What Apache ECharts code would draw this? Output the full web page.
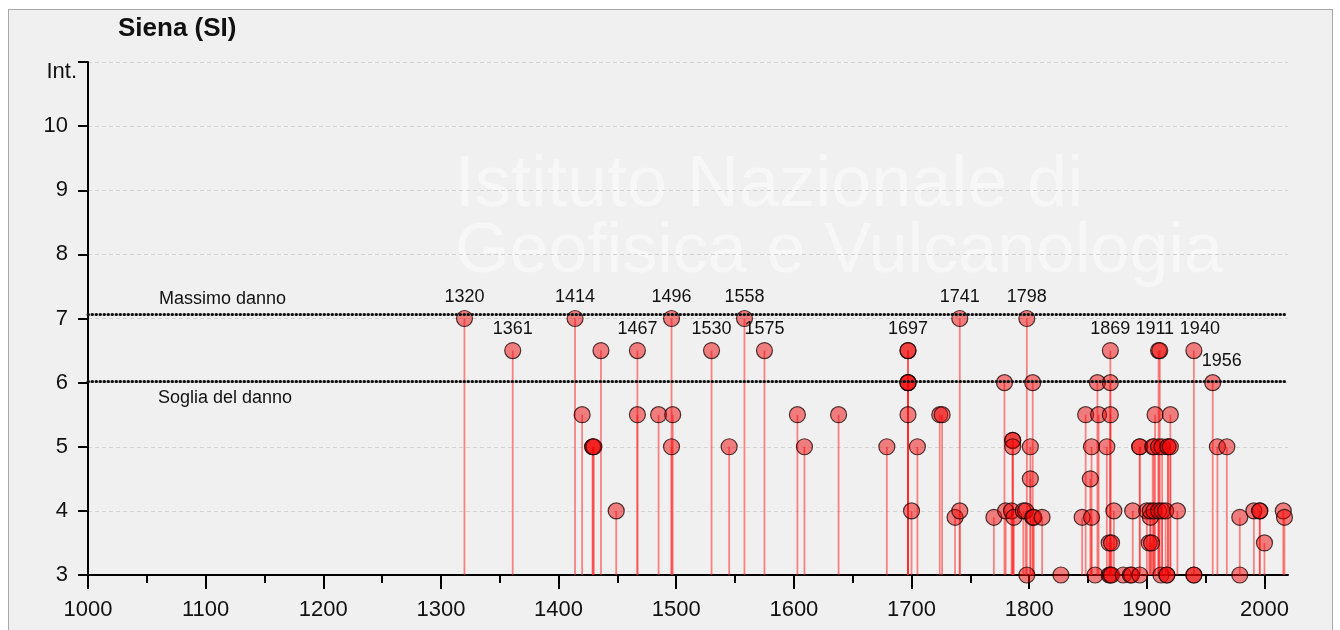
<!DOCTYPE html>
<html>
<head>
<meta charset="utf-8">
<script src="https://cdn.jsdelivr.net/npm/echarts@6/dist/echarts.min.js"></script>
<style>
  html, body { margin: 0; padding: 0; background: #fff; }
  #frame { position: absolute; left: 8px; top: 9px; width: 1323px; height: 640px; border: 1px solid #a8a8a8; background: #f0f0f0; }
  #chart { position: absolute; left: 0; top: 0; width: 1340px; height: 630px; }
</style>
</head>
<body>
<div id="frame"></div>
<div id="chart"></div>
<script>
const FONT = "'Liberation Sans', Arial, sans-serif";
const INK = "#111";

// anni e intensità delle osservazioni macrosismiche
const years = [
  1320, 1361, 1414, 1420, 1429, 1429, 1430, 1436, 1449, 1467, 1467, 1485, 1496, 1497, 1496, 1530, 1545, 1558, 1575,
  1603, 1609, 1638, 1679, 1697, 1697, 1697, 1697, 1697, 1697, 1700, 1705, 1724, 1726, 1737, 1741, 1741,
  1770, 1779, 1780, 1785, 1786, 1786, 1786, 1787, 1795, 1797, 1798, 1798, 1801, 1801, 1803, 1803, 1804, 1811, 1827,
  1845, 1848, 1852, 1853, 1853, 1856, 1858, 1859, 1866, 1869, 1869, 1869, 1868, 1870, 1868, 1869, 1870, 1872,
  1880, 1886, 1888, 1887, 1894, 1894, 1894, 1900, 1902, 1904, 1903, 1903, 1905, 1906, 1906, 1907, 1910, 1911,
  1910, 1910, 1913, 1913, 1912, 1916, 1917, 1917, 1918, 1918, 1920, 1920, 1926, 1940, 1940, 1940, 1956, 1960,
  1968, 1979, 1979, 1991, 1996, 1996, 2000, 2016, 2017,
];
const intensities = [
  7, 6.5, 7, 5.5, 5, 5, 5, 6.5, 4, 6.5, 5.5, 5.5, 7, 5.5, 5, 6.5, 5, 7, 6.5,
  5.5, 5, 5.5, 5, 6.5, 6.5, 6, 6, 6, 5.5, 4, 5, 5.5, 5.5, 3.9, 7, 4,
  3.9, 6, 4, 4, 5.1, 5.1, 5, 3.9, 4, 4, 7, 3, 5, 4.5, 6, 3.9, 3.9, 3.9, 3,
  3.9, 5.5, 4.5, 5, 3.9, 3, 6, 5.5, 5, 6.5, 6, 5.5, 3.5, 3.5, 3, 3, 3, 4,
  3, 3, 4, 3, 5, 5, 3, 4, 3.5, 3.5, 3.9, 4, 5, 5, 4, 5.5, 6.5, 6.5,
  5, 4, 5, 4, 3, 4, 3, 3, 5, 5, 5, 5.5, 4, 6.5, 3, 3, 6, 5,
  5, 3.9, 3, 4, 4, 4, 3.5, 4, 3.9,
];
const labelYears = [1320, 1361, 1414, 1467, 1496, 1530, 1558, 1575, 1697, 1741, 1798, 1869, 1911, 1940, 1956];
const xTicks = [1000, 1100, 1200, 1300, 1400, 1500, 1600, 1700, 1800, 1900, 2000];
const xMinorTicks = [1050, 1150, 1250, 1350, 1450, 1550, 1650, 1750, 1850, 1950];
const yTicks = [3, 4, 5, 6, 7, 8, 9, 10];
const refValues = [7.07, 6.02];
const refNames = ["Massimo danno", "Soglia del danno"];
const X_MIN = 1000, X_MAX = 2020, Y_MIN = 3, Y_MAX = 11;

// piccoli spostamenti delle etichette affollate (px)
const labelNudge = { 1911: -5, 1940: 6, 1956: 9 };

// etichetta sull'evento più forte di ciascun anno segnalato
const labelIndex = new Set(labelYears.map((year) => {
  let best = -1;
  years.forEach((y, i) => { if (y === year && (best < 0 || intensities[i] > intensities[best])) best = i; });
  return best;
}));

const points = years.map((year, i) => ({
  value: [year, intensities[i]],
  label: { show: labelIndex.has(i), formatter: String(year), offset: [labelNudge[year] || 0, 0] },
}));

const axisLine = { show: true, onZero: false, lineStyle: { color: "#000", width: 2 } };
const plain = (value) => String(value);

const chart = echarts.init(document.getElementById("chart"), null, { renderer: "canvas" });
chart.setOption({
  animation: false,
  backgroundColor: "transparent",
  textStyle: { fontFamily: FONT },
  title: { text: "Siena (SI)", left: 118, top: 16, padding: 0, textStyle: { fontSize: 26, fontWeight: "bold", color: INK, fontFamily: FONT } },
  graphic: [
    { type: "text", left: 455, top: 150, z: -10, silent: true, style: { text: "Istituto Nazionale di", fontSize: 72, fontFamily: FONT, fill: "rgba(255,255,255,0.45)" } },
    { type: "text", left: 455, top: 218, z: -10, silent: true, style: { text: "Geofisica e Vulcanologia", fontSize: 70, fontFamily: FONT, fill: "rgba(255,255,255,0.45)" } },
  ],
  grid: { left: 88, right: 52, top: 62, bottom: 55 },
  xAxis: [
    {
      type: "value", min: X_MIN, max: X_MAX, interval: 100,
      axisLine,
      axisTick: { show: true, length: 14, customValues: xTicks, lineStyle: { color: "#000", width: 2 } },
      axisLabel: { customValues: xTicks, formatter: plain, margin: 24, fontSize: 22, color: INK, fontFamily: FONT },
      splitLine: { show: false },
    },
    {
      type: "value", min: X_MIN, max: X_MAX, position: "bottom",
      axisLine: { show: false },
      axisTick: { show: true, length: 8, customValues: xMinorTicks, lineStyle: { color: "#000", width: 2 } },
      axisLabel: { show: false },
      splitLine: { show: false },
    },
  ],
  yAxis: {
    type: "value", min: Y_MIN, max: Y_MAX, interval: 1,
    name: "Int.", nameLocation: "end", nameGap: -10,
    nameTextStyle: { fontSize: 22, color: INK, fontFamily: FONT, align: "right", verticalAlign: "middle", padding: [0, 11, 0, 0] },
    axisLine,
    axisTick: { show: true, length: 10, lineStyle: { color: "#000", width: 2 } },
    axisLabel: { customValues: yTicks, formatter: plain, margin: 20, fontSize: 22, color: INK, fontFamily: FONT },
    splitLine: { show: true, lineStyle: { color: "#d4d4d4", type: [4, 3], width: 1 } },
  },
  series: [
    {
      type: "custom",
      silent: true,
      z: 2,
      data: years.map((year, i) => [year, intensities[i]]),
      renderItem: (params, api) => {
        const top = api.coord([api.value(0), api.value(1)]);
        const base = api.coord([api.value(0), Y_MIN]);
        return { type: "line", shape: { x1: top[0], y1: top[1], x2: base[0], y2: base[1] }, style: { stroke: "rgba(255,40,40,0.55)", lineWidth: 1.8 } };
      },
    },
    {
      type: "scatter",
      z: 3,
      symbolSize: 16,
      data: points,
      itemStyle: { color: "rgba(240,0,0,0.48)", borderColor: "rgba(20,0,0,0.75)", borderWidth: 1.2, opacity: 1 },
      label: { position: "top", distance: 4, fontSize: 18, color: INK, fontFamily: FONT },
      markLine: {
        silent: true,
        symbol: ["none", "none"],
        lineStyle: { color: "#111", width: 3, type: [0.5, 3.5], cap: "round" },
        data: refValues.map((value, i) => ({
          yAxis: value,
          label: {
            formatter: refNames[i],
            position: i === 0 ? "insideStartTop" : "insideStartBottom",
            distance: i === 0 ? 6 : 8,
            padding: [0, 0, 0, i === 0 ? 65 : 62],
            fontSize: 18, color: INK, fontFamily: FONT,
          },
        })),
      },
    },
  ],
});
</script>
</body>
</html>
